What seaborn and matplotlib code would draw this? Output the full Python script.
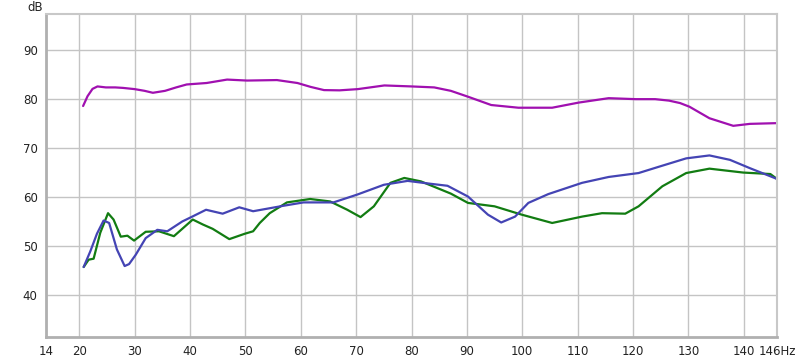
import matplotlib
matplotlib.use("Agg")
import matplotlib.pyplot as plt
import seaborn as sns
import pandas as pd

# Magenta series (frequency Hz, level dB)
mag_f = [20.7, 21.5, 22.4, 23.3, 24.8, 26.5, 27.9, 30.0, 31.8, 33.3, 35.5, 37.5, 39.4, 43.0, 46.7, 50.3,
         55.7, 59.4, 61.8, 64.2, 67.0, 70.3, 75.1, 80.0, 84.1, 87.1, 90.2, 94.4, 99.3, 105.4, 110.2,
         115.6, 120.5, 124.0, 126.5, 128.5, 130.2, 133.8, 138.1, 141.1, 146.0]
mag_db = [78.6, 80.6, 82.1, 82.6, 82.4, 82.4, 82.3, 82.05, 81.7, 81.3, 81.7, 82.4, 83.0, 83.3, 84.0, 83.8,
          83.9, 83.3, 82.5, 81.85, 81.8, 82.05, 82.8, 82.6, 82.4, 81.7, 80.5, 78.8, 78.25, 78.25, 79.3,
          80.2, 80.0, 80.0, 79.7, 79.2, 78.45, 76.1, 74.55, 74.95, 75.1]

# Blue series
blu_f = [20.8, 22.0, 23.2, 24.4, 25.4, 26.8, 28.2, 29.0, 30.2, 32.0, 34.1, 35.9, 38.6, 40.5, 42.9, 45.9,
         48.9, 51.4, 56.8, 60.5, 65.9, 70.2, 75.0, 79.3, 83.5, 86.5, 90.2, 93.8, 96.2, 98.7, 101.1,
         104.7, 110.8, 115.6, 121.0, 124.7, 129.6, 133.8, 137.5, 141.1, 146.0]
blu_db = [45.7, 48.9, 52.5, 55.2, 54.7, 49.3, 45.9, 46.3, 48.2, 51.6, 53.3, 53.0, 55.0, 56.05, 57.4, 56.6,
          57.9, 57.1, 58.2, 58.9, 58.9, 60.5, 62.5, 63.3, 62.7, 62.3, 60.1, 56.4, 54.8, 56.0, 58.8,
          60.6, 62.9, 64.1, 64.9, 66.2, 67.9, 68.5, 67.6, 65.9, 63.7]

# Green series
grn_f = [20.8, 21.7, 22.6, 23.8, 25.2, 26.2, 27.5, 28.7, 29.9, 32.0, 34.4, 37.1, 40.5, 42.3, 44.1, 47.1,
         49.9, 51.4, 52.6, 54.4, 57.5, 61.7, 65.3, 68.4, 70.8, 73.2, 76.2, 78.7, 81.7, 87.1, 90.2,
         95.0, 99.9, 105.4, 110.8, 114.4, 118.6, 121.0, 125.3, 129.6, 133.8, 139.9, 144.8, 146.0]
grn_db = [45.7, 47.2, 47.4, 52.7, 56.7, 55.4, 51.9, 52.1, 51.1, 52.9, 53.0, 52.0, 55.4, 54.4, 53.5, 51.4,
          52.5, 53.0, 54.7, 56.7, 58.9, 59.6, 59.1, 57.4, 55.9, 58.1, 62.9, 63.9, 63.2, 60.7, 58.8,
          58.1, 56.4, 54.7, 56.0, 56.7, 56.6, 58.1, 62.2, 64.9, 65.8, 65.0, 64.7, 63.7]

x_ticks = [14, 20, 30, 40, 50, 60, 70, 80, 90, 100, 110, 120, 130, 140, 146]
x_labels = ["14", "20", "30", "40", "50", "60", "70", "80", "90", "100", "110", "120", "130", "140", "146Hz"]
y_ticks = [40, 50, 60, 70, 80, 90]

df = pd.concat([
    pd.DataFrame({"f": mag_f, "db": mag_db, "s": "mag"}),
    pd.DataFrame({"f": grn_f, "db": grn_db, "s": "grn"}),
    pd.DataFrame({"f": blu_f, "db": blu_db, "s": "blu"}),
], ignore_index=True)

sns.set_style("white")
plt.rcParams['font.family'] = ['DejaVu Sans']

fig = plt.figure(figsize=(8.0, 3.59), dpi=100)
ax = fig.add_axes([46/800, (359-337)/359, (777-46)/800, (337-14)/359])

palette = {"mag": "#a010b0", "grn": "#127c12", "blu": "#4444b4"}
sns.lineplot(data=df, x="f", y="db", hue="s", palette=palette, sort=False,
             estimator=None, linewidth=1.6, legend=False, ax=ax,
             solid_joinstyle="round", solid_capstyle="round")

ax.set_xlim(14, 146)
ax.set_ylim(31.4, 97.4)
ax.set_xticks(x_ticks)
ax.set_xticklabels(x_labels)
ax.set_yticks(y_ticks)
ax.grid(True, color="#c4c4c4", linewidth=1.0)
ax.set_axisbelow(True)
ax.tick_params(length=0, labelsize=8.5, colors="#222222", pad=6)
ax.set_xlabel("")
ax.set_ylabel("")
for side in ["left", "bottom"]:
    ax.spines[side].set_color("#b0b0b0")
    ax.spines[side].set_linewidth(2.0)
for side in ["top", "right"]:
    ax.spines[side].set_color("#c8c8c8")
    ax.spines[side].set_linewidth(1.5)

fig.text(35/800, 1 - 1/359, "dB", ha="center", va="top", fontsize=8.5, color="#222222")

fig.savefig("out.png", dpi=100, facecolor="white")
